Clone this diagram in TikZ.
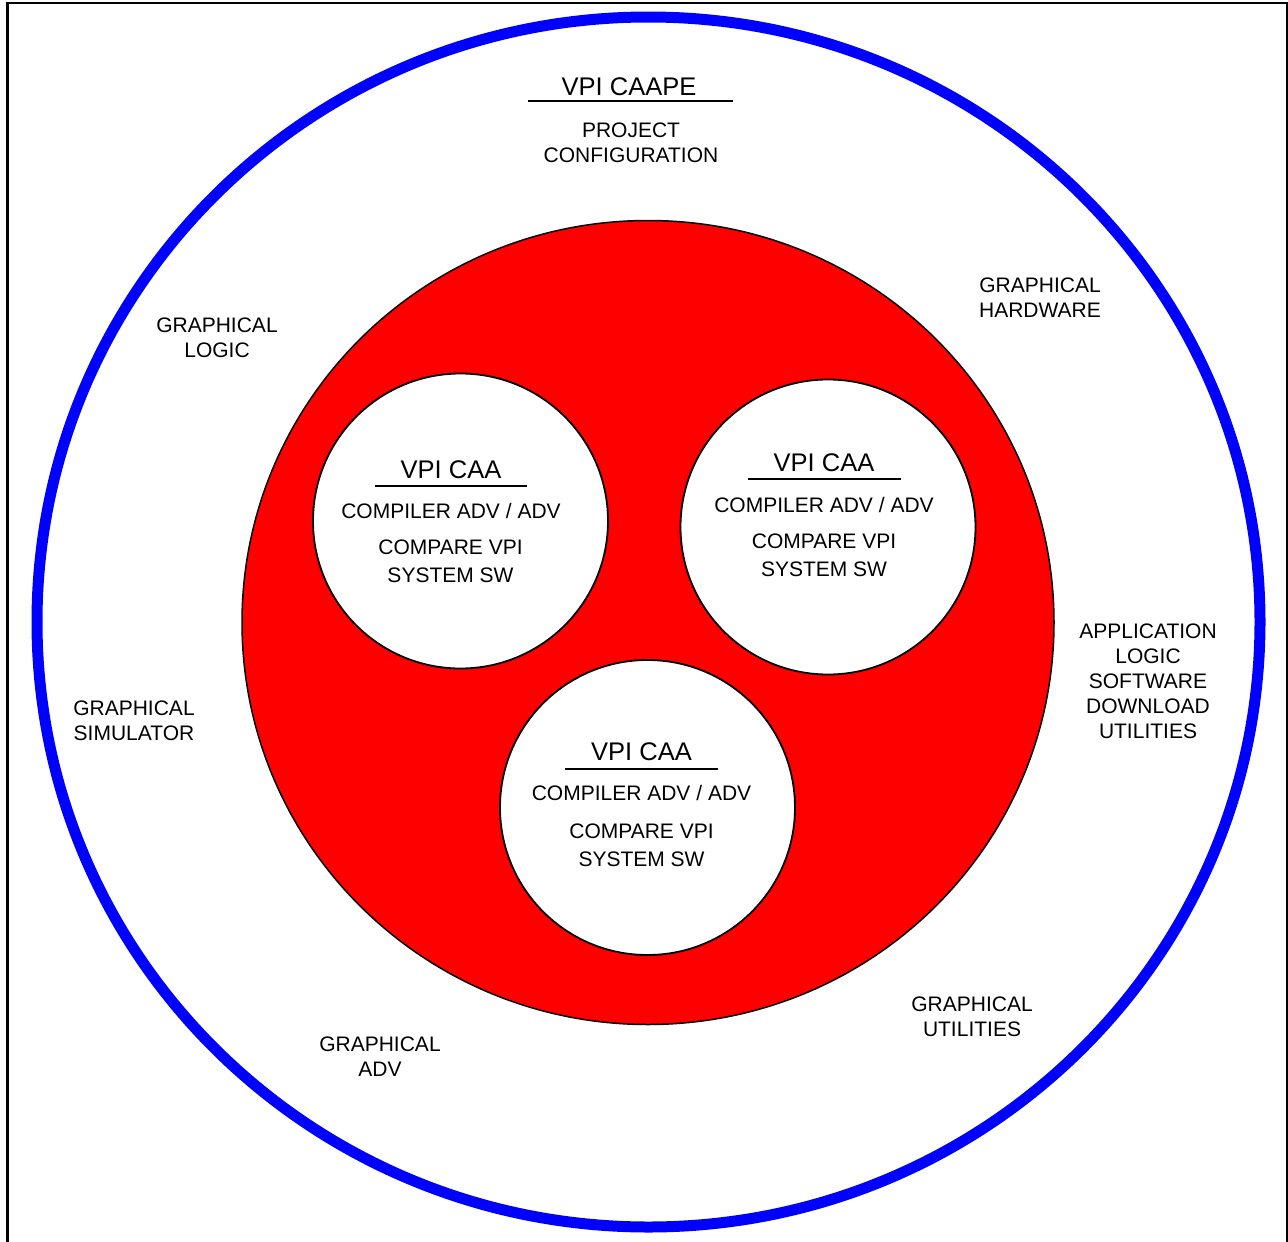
\documentclass[tikz,border=0pt]{standalone}
\usepackage{fontspec}
\setmainfont{Liberation Sans}
\begin{document}
\begin{tikzpicture}[x=1pt,y=-1pt,
  lbl/.style={inner sep=0pt,align=center,font=\fontsize{21}{25}\selectfont},
  sublbl/.style={inner sep=0pt,align=center,font=\fontsize{21}{28.3}\selectfont},
  ttl/.style={inner sep=0pt,font=\fontsize{25.5}{30}\selectfont},
  uline/.style={line width=2pt},
  inner/.style={draw=black,line width=1.8pt,fill=white}]
\useasboundingbox (0,0) rectangle (1288,1242);
% frame
\draw[line width=2.5pt] (7.7,1245) -- (7.7,3) -- (1287,3) -- (1287,1245);
% outer blue ring
\draw[draw={rgb,255:red,0;green,0;blue,255},line width=11pt] (648.5,622) ellipse [x radius=611.5,y radius=605];
% red disc
\draw[fill={rgb,255:red,255;green,0;blue,0},draw=black,line width=1.5pt] (648,622.5) ellipse [x radius=406,y radius=402];
% inner white circles
\draw[inner] (460.5,521) circle [radius=147.5];
\draw[inner] (828,527) circle [radius=147.5];
\draw[inner] (647.5,807.5) circle [radius=147.5];

% outer labels
\node[ttl] (caape) at (629,87) {VPI CAAPE};
\draw[uline] (528,100.5) -- (733,100.5);
\node[lbl] (proj) at (631,142.5) {PROJECT\\CONFIGURATION};
\node[lbl] (ghw) at (1040,297.5) {GRAPHICAL\\HARDWARE};
\node[lbl] (glog) at (217,337.5) {GRAPHICAL\\LOGIC};
\node[lbl] (app) at (1148,681.5) {APPLICATION\\LOGIC\\SOFTWARE\\DOWNLOAD\\UTILITIES};
\node[lbl] (gsim) at (134,720.5) {GRAPHICAL\\SIMULATOR};
\node[lbl] (gadv) at (380,1056.5) {GRAPHICAL\\ADV};
\node[lbl] (gutil) at (972,1016.5) {GRAPHICAL\\UTILITIES};

% circle 1
\node[ttl] (t1) at (451,469.5) {VPI CAA};
\draw[uline] (375,486) -- (527,486);
\node[lbl] (c1) at (451,510.5) {COMPILER ADV / ADV};
\node[sublbl] (s1) at (450.5,561.5) {COMPARE VPI\\SYSTEM SW};
% circle 2
\node[ttl] (t2) at (824,462.5) {VPI CAA};
\draw[uline] (748,479.3) -- (901,479.3);
\node[lbl] (c2) at (824,505) {COMPILER ADV / ADV};
\node[sublbl] (s2) at (824,555.5) {COMPARE VPI\\SYSTEM SW};
% circle 3
\node[ttl] (t3) at (641.5,751.5) {VPI CAA};
\draw[uline] (565,769) -- (718,769);
\node[lbl] (c3) at (641.5,793) {COMPILER ADV / ADV};
\node[sublbl] (s3) at (641.5,845) {COMPARE VPI\\SYSTEM SW};
\end{tikzpicture}
\end{document}
